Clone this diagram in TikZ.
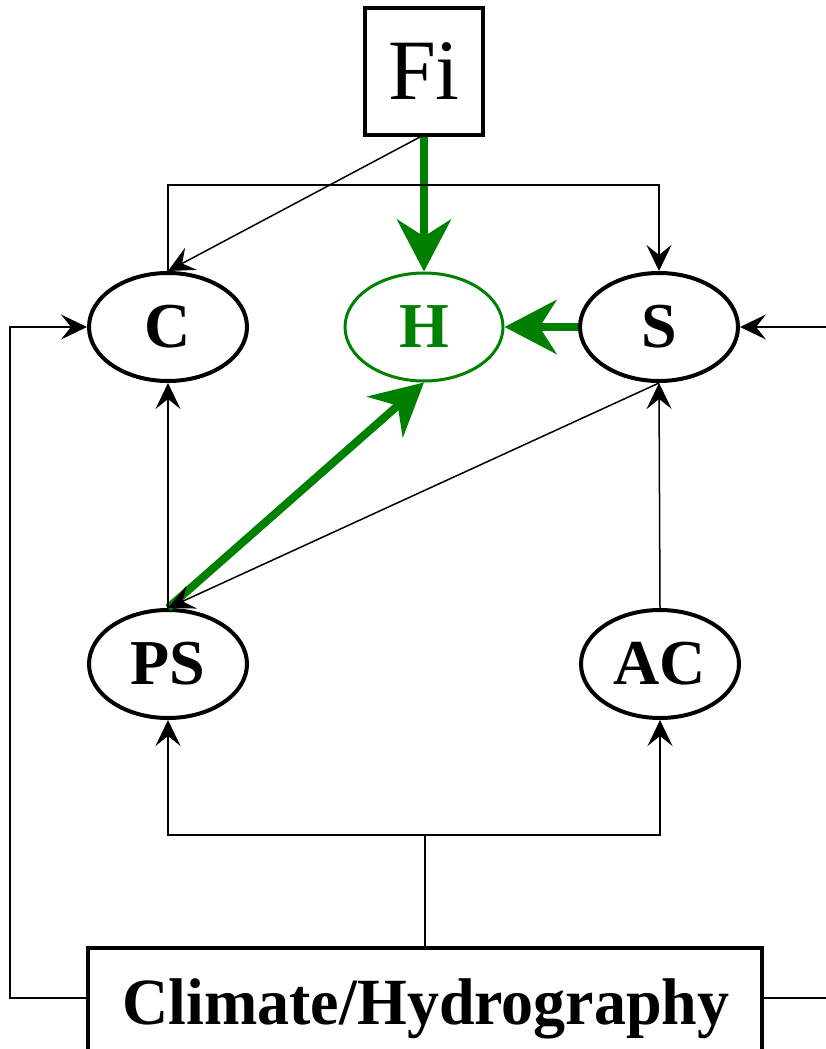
\documentclass[tikz,border=0pt]{standalone}
\usepackage{fontspec}
\setmainfont{Liberation Serif}
\usetikzlibrary{arrows.meta,shapes.geometric,calc}
\definecolor{dgreen}{RGB}{0,128,0}
\tikzset{
  ell/.style={ellipse, draw, line width=4pt, minimum width=158pt, minimum height=108pt, inner sep=0pt,
     font=\bfseries\fontsize{64}{70}\selectfont},
  boxnode/.style={draw, line width=4pt, inner sep=0pt},
  thin/.style={line width=1.5pt, -{Stealth[length=26pt,width=25pt,inset=10pt]}},
  plain/.style={line width=1.5pt},
  garrow/.style={dgreen, line width=8pt, -{Stealth[length=52pt,width=54pt,inset=17pt]}},
}
\begin{document}
\begin{tikzpicture}[x=1pt,y=-1pt]
\clip (0,0) rectangle (826,1049);
\fill[white] (0,0) rectangle (826,1049);
% nodes
\node[boxnode, minimum width=118pt, minimum height=127pt, font=\fontsize{86}{90}\selectfont] (Fi) at (424,71.5) {Fi};
\node[ell] (C) at (168,327) {C};
\node[ell, draw=dgreen, text=dgreen, line width=3pt] (H) at (424,327) {H};
\node[ell] (S) at (659,327) {S};
\node[ell] (PS) at (168,664) {PS};
\node[ell] (AC) at (660,664) {AC};
\node[boxnode, minimum width=674pt, minimum height=104pt] (clim) at (425,1000) {};
\node[anchor=base, font=\bfseries\fontsize{66}{70}\selectfont, xscale=0.97] (climt) at (426,1024) {Climate/Hydrography};
% green arrows
\draw[garrow] (Fi.south) -- (H.north);
\draw[garrow] (S.west) -- (H.east);
\draw[garrow] (PS.north) -- (H.south);
% thin connectors
\draw[thin] ($(Fi.south)+(-4,0)$) -- (C.north);
\draw[thin] (C.north) -- (C.north |- 0,185) -| (S.north);
\draw[thin] (S.south) -- (PS.north);
\draw[thin] (PS.north) -- (C.south);
\draw[thin] (AC.north) -- (S.south);
\coordinate (junc) at (clim.north |- 0,835);
\draw[plain] (clim.north) -- (junc);
\draw[thin] (junc) -| (PS.south);
\draw[thin] (junc) -| (AC.south);
\coordinate (lft) at (10,998);
\draw[thin] (clim.west |- lft) -- (lft) |- (C.west);
\coordinate (rgt) at (860,998);
\draw[thin] (clim.east |- rgt) -- (rgt) |- (S.east);
\end{tikzpicture}
\end{document}
